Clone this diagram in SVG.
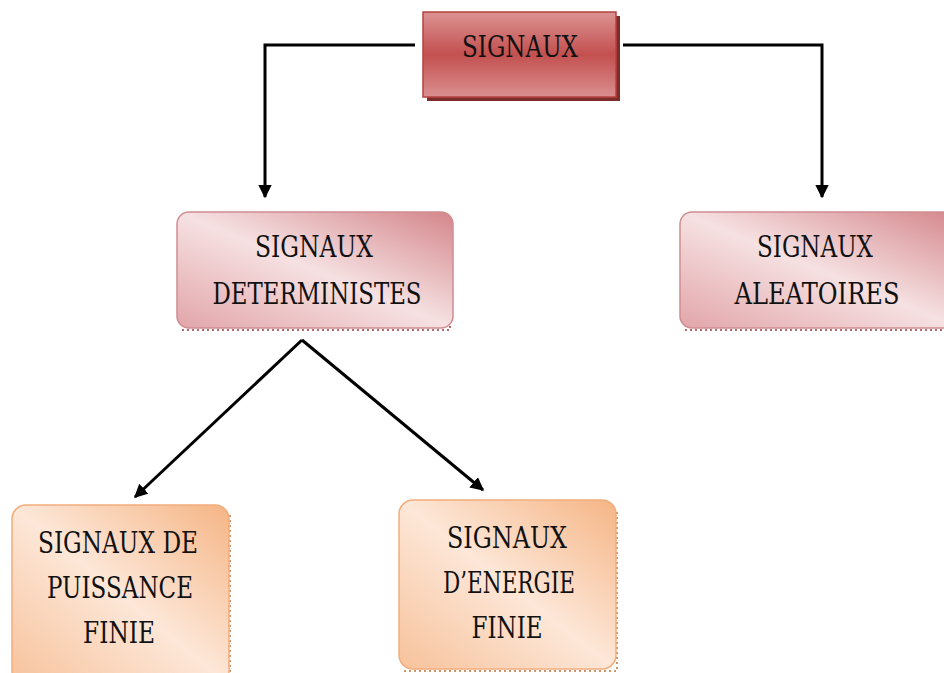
<svg xmlns="http://www.w3.org/2000/svg" width="944" height="673" viewBox="0 0 944 673">
<defs>
<linearGradient id="gTop" x1="0" y1="0" x2="0" y2="1">
<stop offset="0" stop-color="#dc9393"/>
<stop offset="0.5" stop-color="#c3504f"/>
<stop offset="1" stop-color="#da8f8f"/>
</linearGradient>
<linearGradient id="gMid" x1="1" y1="0" x2="0" y2="1">
<stop offset="0" stop-color="#d4868b"/>
<stop offset="0.5" stop-color="#f6e1e2"/>
<stop offset="1" stop-color="#e2a5a9"/>
</linearGradient>
<linearGradient id="gBot" x1="1" y1="0" x2="0" y2="1">
<stop offset="0" stop-color="#f5b585"/>
<stop offset="0.5" stop-color="#fde7d8"/>
<stop offset="1" stop-color="#f7c29b"/>
</linearGradient>
<marker id="ah" viewBox="0 0 10 10" refX="9" refY="5" markerWidth="4.5" markerHeight="4.5" orient="auto" markerUnits="strokeWidth">
<path d="M0,0 L10,5 L0,10 z" fill="#000"/>
</marker>
<style>
.t{font-family:'DejaVu Serif',serif;font-size:29px;fill:#111;text-anchor:middle}
.mid{fill:url(#gMid);stroke:#cf8d92;stroke-width:1.5}
.bot{fill:url(#gBot);stroke:#f2ad7d;stroke-width:1.5}
.shm{fill:none;stroke:#b56a70;stroke-width:2;stroke-dasharray:2 3}
.shb{fill:none;stroke:#d0956a;stroke-width:2;stroke-dasharray:2 3}
.con{fill:none;stroke:#000;stroke-width:3;marker-end:url(#ah)}
</style>
</defs>
<g id="connectors">
<path class="con" d="M415,45 H265 V197"/>
<path class="con" d="M623,45 H822 V197"/>
<path class="con" d="M302,340 L135,497"/>
<path class="con" d="M302,340 L483,490"/>
</g>
<g id="n-signaux">
<rect x="427" y="16" width="193" height="85" fill="#7d2c2c"/>
<rect x="423" y="12" width="193" height="85" fill="url(#gTop)" stroke="#b8403f" stroke-width="1.5"/>
<text class="t" x="520" y="57" textLength="116" lengthAdjust="spacingAndGlyphs">SIGNAUX</text>
</g>
<g id="n-deterministes">
<path class="shm" d="M182,330 H450 V222"/>
<rect class="mid" x="177" y="212" width="276" height="116" rx="12"/>
<text class="t" x="314" y="257" textLength="118" lengthAdjust="spacingAndGlyphs">SIGNAUX</text>
<text class="t" x="317" y="304" textLength="209" lengthAdjust="spacingAndGlyphs">DETERMINISTES</text>
</g>
<g id="n-aleatoires">
<path class="shm" d="M685,330 H944"/>
<rect class="mid" x="680" y="212" width="280" height="116" rx="12"/>
<text class="t" x="815" y="257" textLength="116" lengthAdjust="spacingAndGlyphs">SIGNAUX</text>
<text class="t" x="817" y="304" textLength="165" lengthAdjust="spacingAndGlyphs">ALEATOIRES</text>
</g>
<g id="n-puissance">
<path class="shb" d="M230,515 V673"/>
<rect class="bot" x="12" y="505" width="217" height="180" rx="14"/>
<text class="t" x="118" y="553" textLength="160" lengthAdjust="spacingAndGlyphs">SIGNAUX DE</text>
<text class="t" x="120" y="598" textLength="146" lengthAdjust="spacingAndGlyphs">PUISSANCE</text>
<text class="t" x="119" y="643" textLength="72" lengthAdjust="spacingAndGlyphs">FINIE</text>
</g>
<g id="n-energie">
<path class="shb" d="M404,671 H617 V512"/>
<rect class="bot" x="399" y="500" width="217" height="169" rx="14"/>
<text class="t" x="507" y="548" textLength="120" lengthAdjust="spacingAndGlyphs">SIGNAUX</text>
<text class="t" x="509" y="593" textLength="132" lengthAdjust="spacingAndGlyphs">D’ENERGIE</text>
<text class="t" x="507" y="638" textLength="71" lengthAdjust="spacingAndGlyphs">FINIE</text>
</g>
</svg>
